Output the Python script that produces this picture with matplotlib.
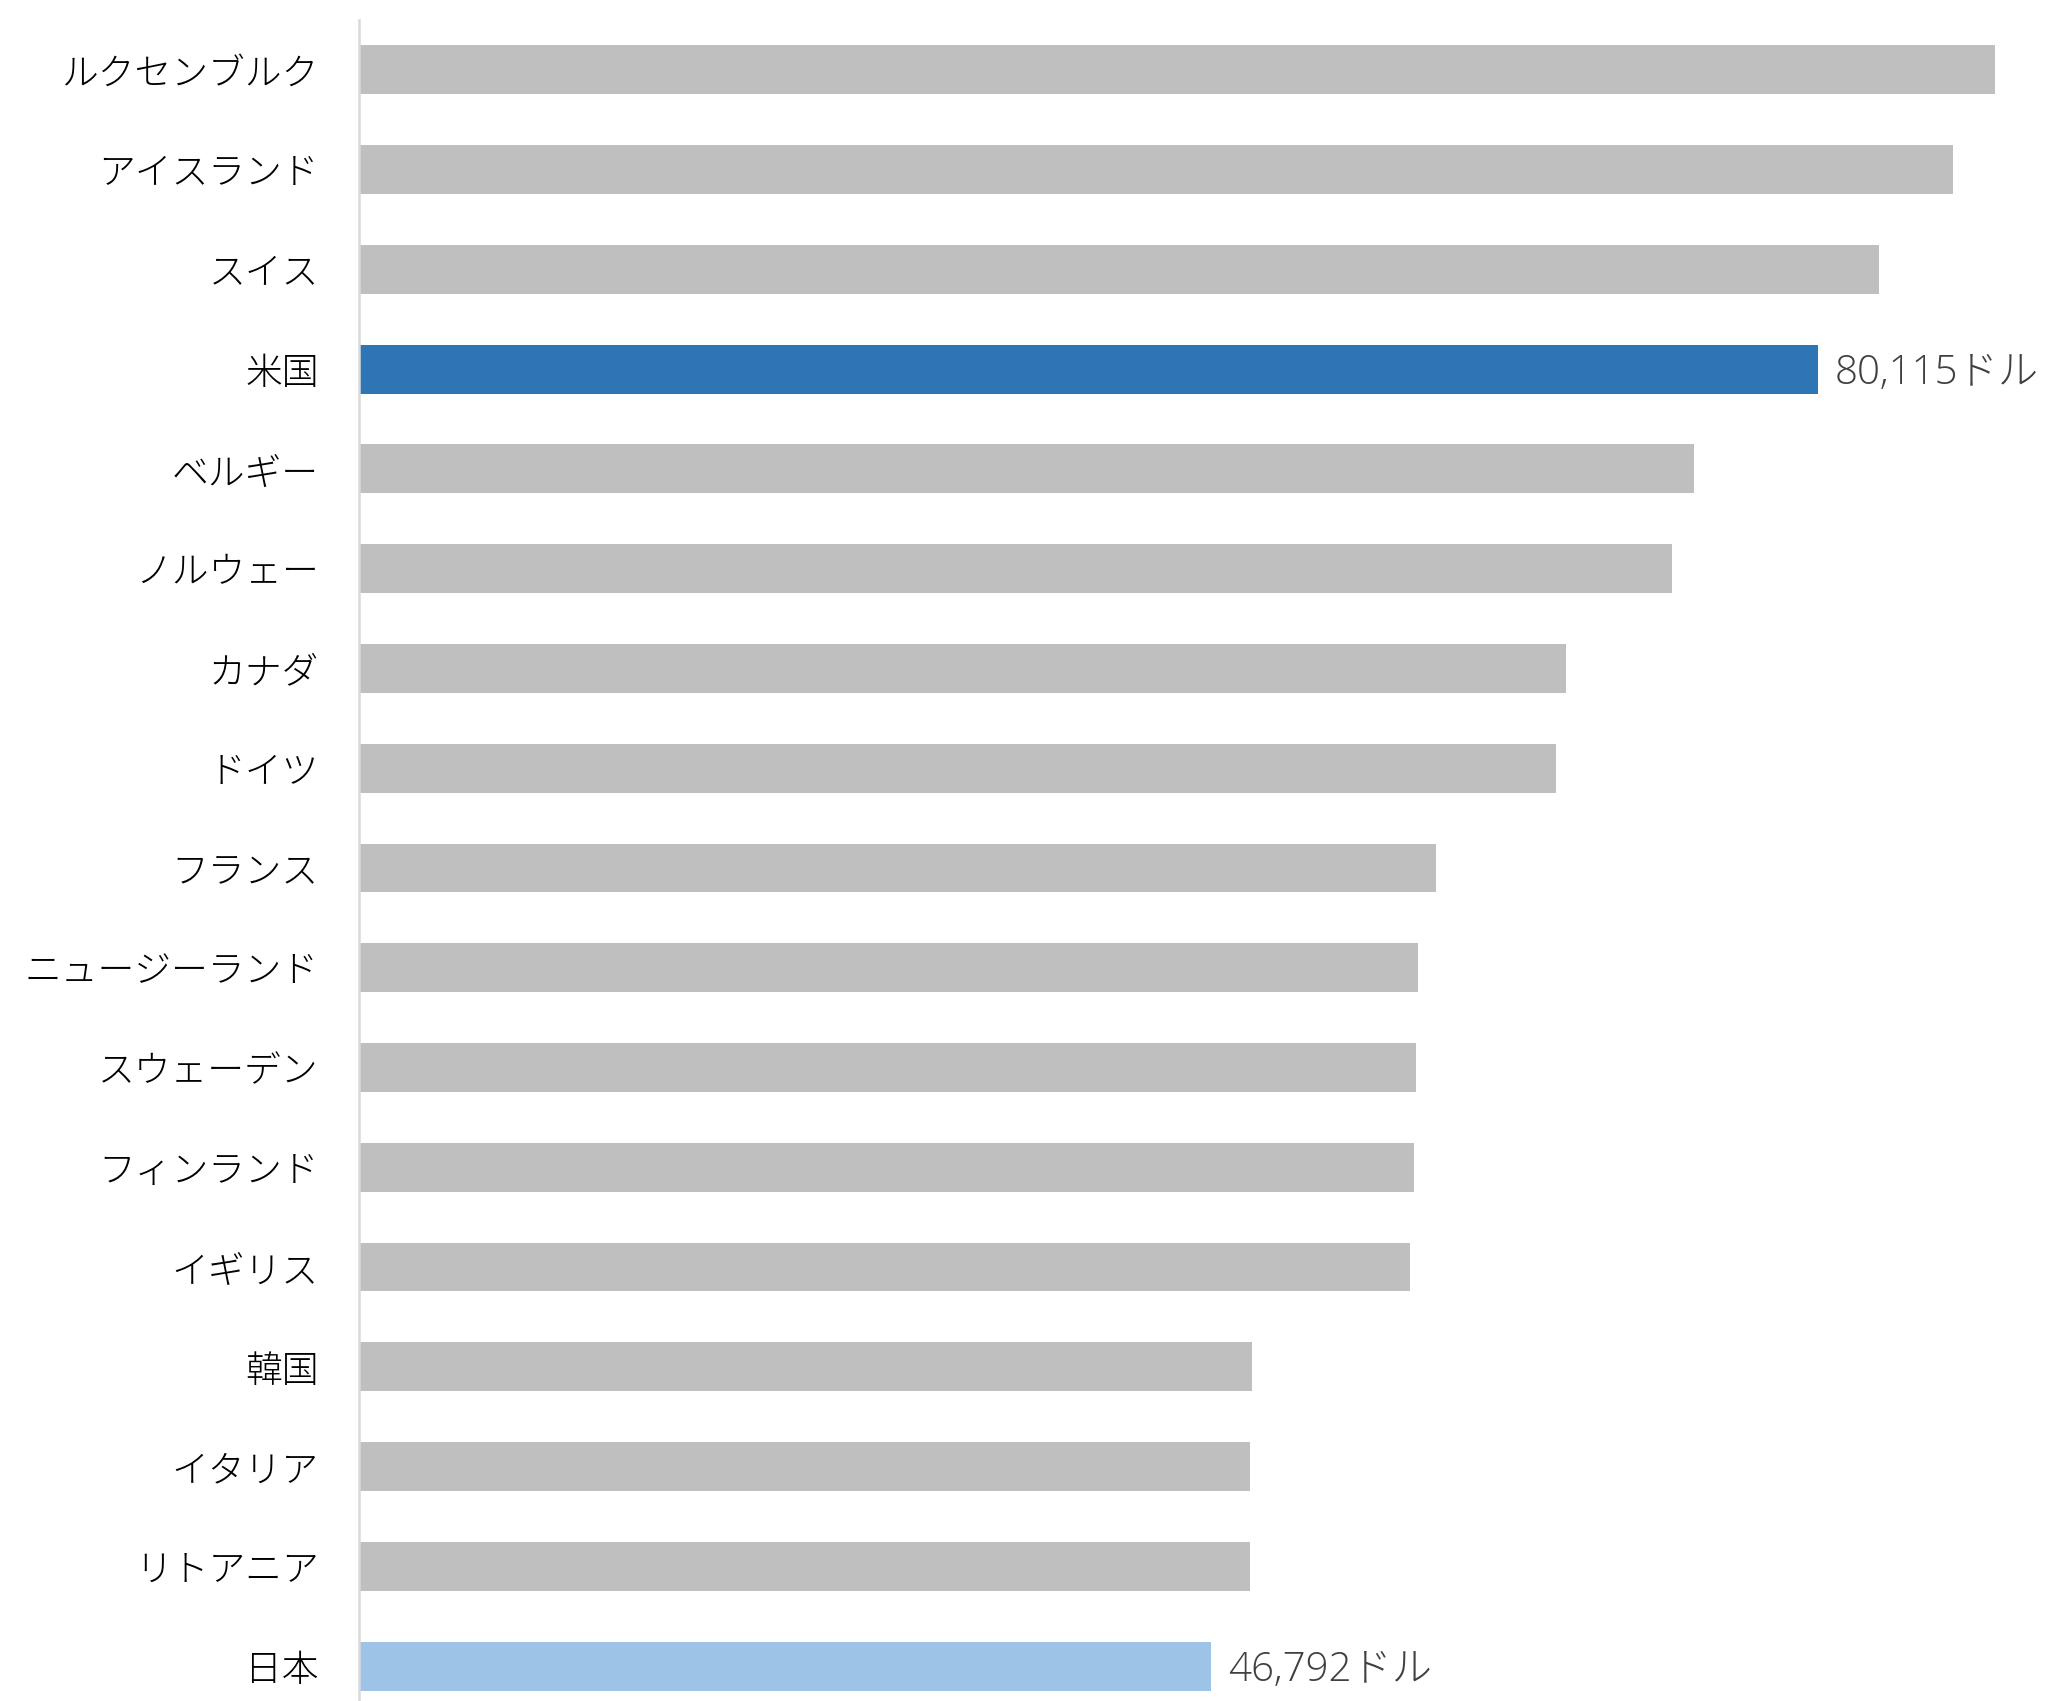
import matplotlib
matplotlib.use("Agg")
import matplotlib.pyplot as plt

plt.rcParams["font.family"] = ["Noto Sans CJK JP", "DejaVu Sans"]

countries = [
    "ルクセンブルク", "アイスランド", "スイス", "米国", "ベルギー", "ノルウェー",
    "カナダ", "ドイツ", "フランス", "ニュージーランド", "スウェーデン",
    "フィンランド", "イギリス", "韓国", "イタリア", "リトアニア", "日本",
]
gdp_per_capita = [
    89820, 87520, 83420, 80115, 73280, 72060,
    66240, 65730, 59120, 58110, 58040,
    57890, 57680, 49050, 48900, 48900, 46792,
]
highlight = {"米国": "#2E75B6", "日本": "#9DC3E6"}
value_labels = {"米国": "80,115ドル", "日本": "46,792ドル"}

fig = plt.figure(figsize=(20.54, 17.01), dpi=100)
ax = fig.add_axes([359 / 2054, 0.0, 1 - 359 / 2054, 1 - 20 / 1701])

colors = [highlight.get(c, "#BFBFBF") for c in countries]
ypos = list(range(len(countries)))
ax.barh(ypos, gdp_per_capita, height=0.49, color=colors)

for y, c, v in zip(ypos, countries, gdp_per_capita):
    if c in value_labels:
        ax.annotate(value_labels[c], (v, y), xytext=(12, -3), textcoords="offset points",
                    va="center", ha="left", fontsize=29, color="#404040",
                    family=["Open Sans", "Noto Sans CJK JP"], fontweight="light",
                    annotation_clip=False)

ax.set_ylim(16.35, -0.5)
ax.set_xlim(0, 93050)
ax.set_yticks(ypos)
ax.set_yticklabels(countries, fontsize=26.5, color="black", fontweight="light")
ax.tick_params(axis="y", length=0, pad=29)
ax.set_xticks([])
for side in ("top", "right", "bottom"):
    ax.spines[side].set_visible(False)
ax.spines["left"].set_color("#D9D9D9")
ax.spines["left"].set_linewidth(1.8)

fig.savefig("out.png", dpi=100)
